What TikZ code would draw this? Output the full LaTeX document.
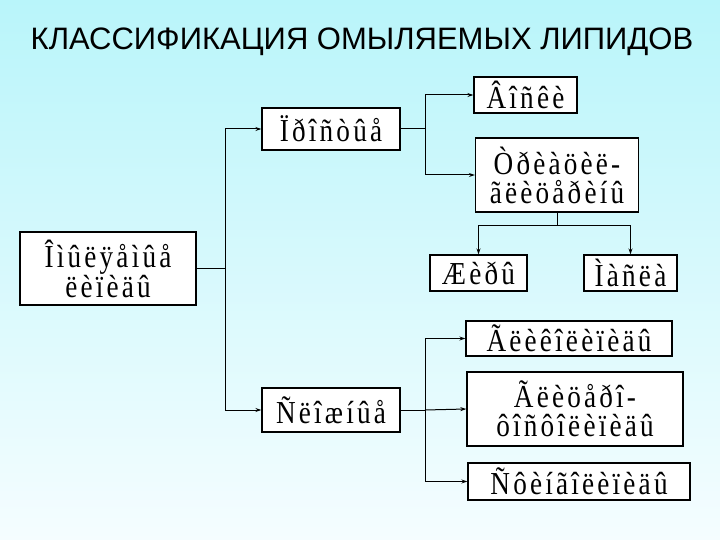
\documentclass[tikz,border=0pt]{standalone}
\usepackage{fontspec}
\setmainfont{Liberation Serif}
\newfontfamily\boxfont[FakeStretch=0.85,LetterSpace=10]{Liberation Serif}
\newfontfamily\titlefont{Liberation Sans}
\usetikzlibrary{arrows.meta}
\definecolor{topc}{RGB}{185,245,250}
\definecolor{botc}{RGB}{245,253,255}
\begin{document}
\begin{tikzpicture}[x=1pt,y=-1pt,
  bx/.style={draw=black,line width=1.3pt,fill=white,font=\boxfont\fontsize{32}{29}\selectfont,inner sep=0pt,align=center},
  ln/.style={line width=1pt},
  ar/.style={ln,-{Stealth[length=6pt,width=4pt]}}]
\fill[top color=topc,bottom color=botc] (0,0) rectangle (720,540);
\useasboundingbox (0,0) rectangle (720,540);
\node[font=\titlefont\fontsize{31}{31}\selectfont] (title) at (362,42) {КЛАССИФИКАЦИЯ ОМЫЛЯЕМЫХ ЛИПИДОВ};
\node[bx,minimum width=176pt,minimum height=73pt] (main) at (108,268.5) {Îìûëÿåìûå\\ëèïèäû};
\node[bx,minimum width=138pt,minimum height=42pt] (pro) at (331,129) {Ïðîñòûå};
\node[bx,minimum width=103pt,minimum height=36pt] (vos) at (525.5,95) {Âîñêè};
\node[bx,minimum width=163pt,minimum height=74pt] (tri) at (557,175) {Òðèàöèë-\\ãëèöåðèíû};
\node[bx,minimum width=97pt,minimum height=36pt] (zh) at (478.5,273) {Æèðû};
\node[bx,minimum width=93pt,minimum height=36pt] (ma) at (630.5,273) {Ìàñëà};
\node[bx,minimum width=138pt,minimum height=44pt] (sl) at (331,410) {Ñëîæíûå};
\node[bx,minimum width=206pt,minimum height=35pt] (gl) at (569,338.5) {Ãëèêîëèïèäû};
\node[bx,minimum width=216pt,minimum height=74pt] (gf) at (575,409) {Ãëèöåðî-\\ôîñôîëèïèäû};
\node[bx,minimum width=222pt,minimum height=37pt] (sf) at (579,481.5) {Ñôèíãîëèïèäû};
\coordinate (j1) at (225,268.5);
\coordinate (j2) at (425,129);
\coordinate (j3) at (425,410);
\coordinate (j4) at (557,226);
\draw[ln] (main.east) -- (j1);
\draw[ar] (j1) |- (pro.west);
\draw[ar] (j1) |- (sl.west);
\draw[ln] (pro.east) -- (j2);
\draw[ar] (j2) |- (vos.west);
\draw[ar] (j2) |- (tri.west);
\draw[ln] (tri.south) -- (j4);
\draw[ar] (j4) -| (zh.north);
\draw[ar] (j4) -| (ma.north);
\draw[ln] (sl.east) -- (j3);
\draw[ar] (j3) |- (gl.west);
\draw[ar] (j3) -- (gf.west);
\draw[ar] (j3) |- (sf.west);
\end{tikzpicture}
\end{document}
